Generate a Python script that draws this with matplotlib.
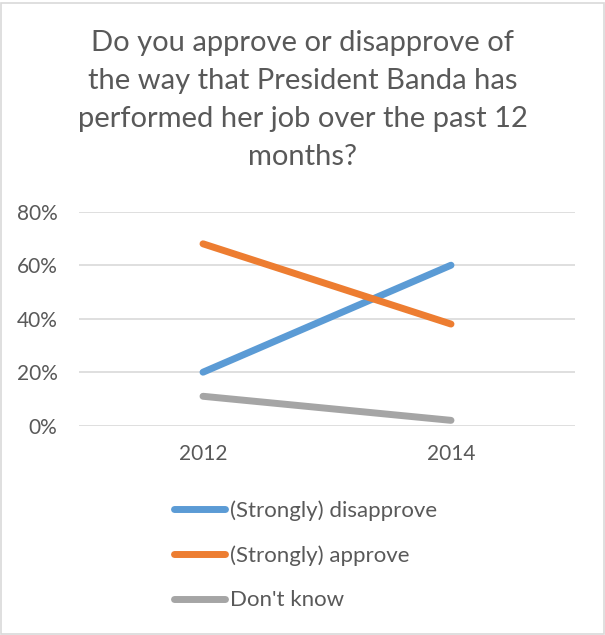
import matplotlib
matplotlib.use("Agg")
import matplotlib.pyplot as plt
from matplotlib.patches import Rectangle
from matplotlib.ticker import FuncFormatter

plt.rcParams['font.family'] = ['Lato', 'DejaVu Sans']

years = ['2012', '2014']
disapprove = [0.20, 0.60]
approve = [0.68, 0.38]
dont_know = [0.11, 0.02]

series = [
    ('(Strongly) disapprove', disapprove, '#5B9BD5'),
    ('(Strongly) approve', approve, '#ED7D31'),
    ("Don't know", dont_know, '#A5A5A5'),
]

txt = '#595959'

fig = plt.figure(figsize=(6.05, 6.35), dpi=100)
fig.patches.append(Rectangle((0.002, 0.002), 0.996, 0.994, transform=fig.transFigure,
                             fill=False, edgecolor='#D9D9D9', linewidth=1.2))

fig.text(0.5, 0.953, 'Do you approve or disapprove of\nthe way that President Banda has\n'
         'performed her job over the past 12\nmonths?',
         ha='center', va='top', fontsize=21, color=txt, linespacing=1.58)

ax = fig.add_axes([0.1306, 0.3296, 0.8198, 0.337])
x = range(len(years))
for name, vals, col in series:
    ax.plot(x, vals, color=col, linewidth=5, solid_capstyle='round', label=name)

ax.set_xlim(-0.5, 1.5)
ax.set_ylim(0, 0.8)
ax.set_yticks([0, 0.2, 0.4, 0.6, 0.8])
ax.yaxis.set_major_formatter(FuncFormatter(lambda v, p: '{:.0f}%'.format(v * 100)))
ax.set_xticks(list(x))
ax.set_xticklabels(years)
ax.grid(axis='y', color='#D9D9D9', linewidth=1.2)
ax.set_axisbelow(True)
for s in ax.spines.values():
    s.set_visible(False)
ax.tick_params(length=0, labelsize=15, colors=txt)
ax.tick_params(axis='y', pad=15.5)
ax.tick_params(axis='x', pad=13.5)

leg = fig.legend(loc='upper left', bbox_to_anchor=(0.2868, 0.212), frameon=False,
                 fontsize=16, handlelength=2.3, handletextpad=0.25, labelspacing=1.1,
                 borderaxespad=0, borderpad=0)
for t in leg.get_texts():
    t.set_color(txt)
for h in leg.get_lines():
    h.set_solid_capstyle('round')

fig.savefig('out.png', dpi=100)
